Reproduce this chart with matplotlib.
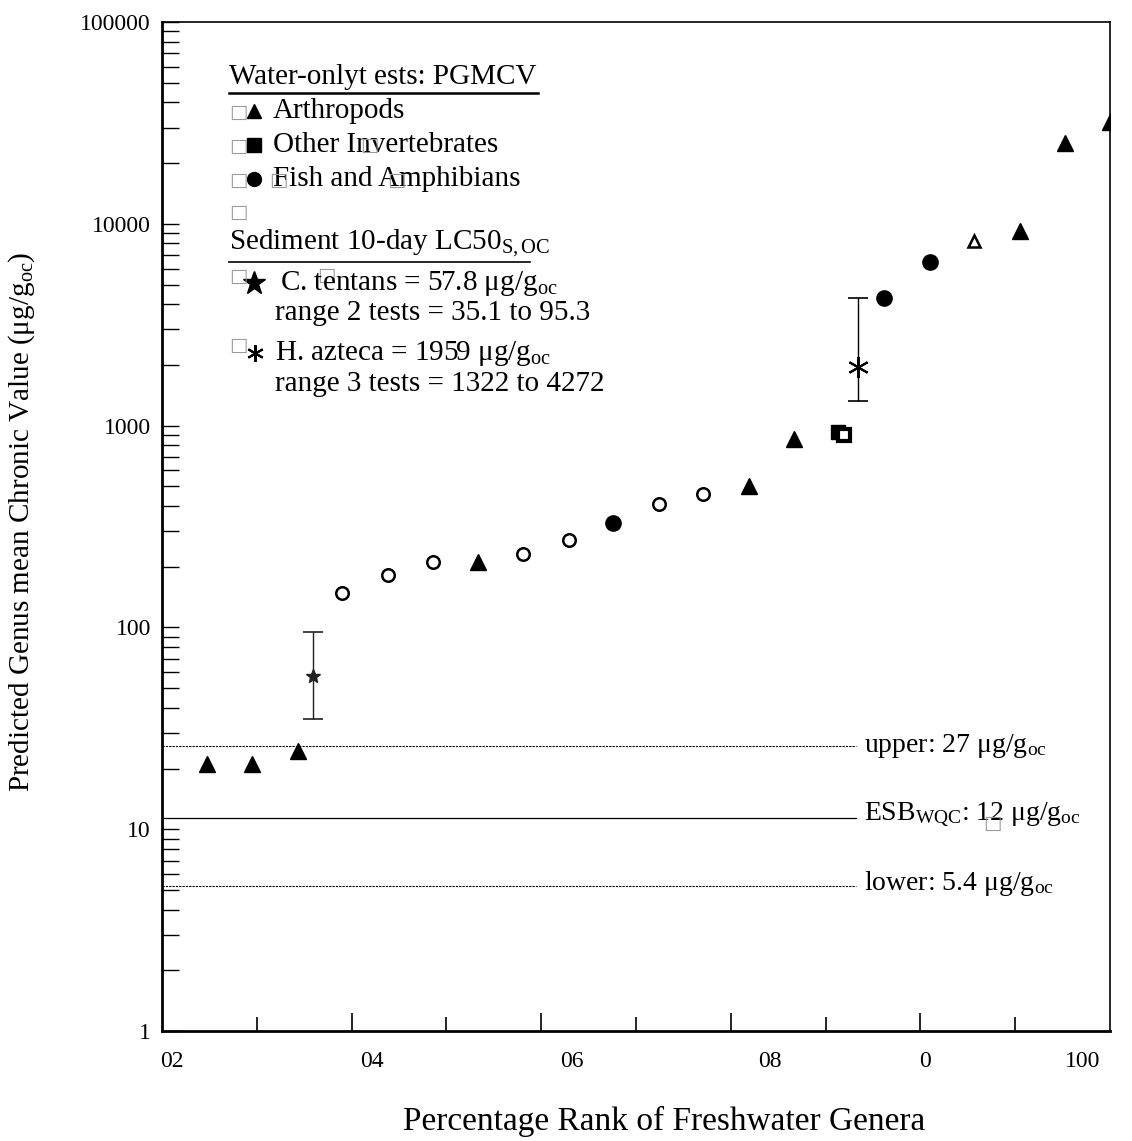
import matplotlib
matplotlib.use("Agg")
import matplotlib.pyplot as plt
import matplotlib.transforms as mtransforms

plt.rcParams['font.family'] = ['Liberation Serif', 'DejaVu Serif']
plt.rcParams['mathtext.fontset'] = 'custom'
plt.rcParams['mathtext.rm'] = 'Liberation Serif'
plt.rcParams['mathtext.it'] = 'Liberation Serif:italic'

# --- dane ---
# Arthropods (filled triangles)
art_x = [4.8, 9.5, 14.3, 33.3, 61.9, 66.7, 90.5, 95.2, 100.0]
art_y = [21.1, 21.1, 24.5, 212, 505, 855, 9190, 25100, 31900]
# open triangle
art_open_x = [85.7]
art_open_y = [8200]
# open circles
circ_open_x = [19.0, 23.8, 28.6, 38.1, 42.9, 52.4, 57.1]
circ_open_y = [149, 183, 210, 230, 270, 407, 456]
# Fish and amphibians (filled circles)
fish_x = [47.6, 76.2, 81.0]
fish_y = [331, 4275, 6455]
# Other invertebrates
inv_x = [71.3]
inv_y = [925]
inv_open_x = [71.9]
inv_open_y = [904]
# Sediment LC50
tentans_x, tentans_y = 15.9, 57.8
tentans_lo, tentans_hi = 35.1, 95.3
azteca_x, azteca_y = 73.4, 1959
azteca_lo, azteca_hi = 1322, 4272
# ESB lines
upper_val = 26
esb_val = 11.4
lower_val = 5.25
line_end = 73.2

xtick_pos = [1.0, 22.1, 43.2, 64.1, 80.5, 97.1]
xtick_txt = ["02", "04", "06", "08", "0", "100"]

fig = plt.figure(figsize=(11.32, 11.41), dpi=100)
ax = fig.add_axes([0.1431, 0.0963, 0.8375, 0.8844])

ms = 10
ax.plot(art_x, art_y, "^", color="black", ms=ms + 1, ls="none")
ax.plot(art_open_x, art_open_y, "^", mfc="white", mec="black", mew=1.8, ms=ms - 1, ls="none")
ax.plot(circ_open_x, circ_open_y, "o", mfc="white", mec="black", mew=1.8, ms=ms - 1, ls="none")
ax.plot(fish_x, fish_y, "o", color="black", ms=ms + 1, ls="none")
ax.plot(inv_x, inv_y, "s", color="black", ms=ms, ls="none")
ax.plot(inv_open_x, inv_open_y, "s", mfc="white", mec="black", mew=3, ms=ms - 2, ls="none")

ax.errorbar([tentans_x], [tentans_y],
            yerr=[[tentans_y - tentans_lo], [tentans_hi - tentans_y]],
            fmt="*", color="#222222", ms=ms, capsize=7, elinewidth=1, capthick=1.2)
ax.errorbar([azteca_x], [azteca_y],
            yerr=[[azteca_y - azteca_lo], [azteca_hi - azteca_y]],
            fmt="none", color="black", capsize=7, elinewidth=1, capthick=1.2)
ax.plot([azteca_x], [azteca_y], marker=(6, 2, 0), color="black", ms=15, mew=1.5, ls="none")

ax.plot([0, line_end], [upper_val, upper_val], color="black", lw=0.8, ls=(0, (2, 1)))
ax.plot([0, line_end], [esb_val, esb_val], color="black", lw=0.9)
ax.plot([0, line_end], [lower_val, lower_val], color="black", lw=0.8, ls=(0, (2, 1)))

fs = 21
lfs = 20
ax.text(74.0, upper_val, r"upper: 27 μg/g$_{\mathregular{oc}}$", fontsize=lfs, va="center")
ax.text(74.0, esb_val * 1.03, r"ESB$_{\mathregular{WQC}}$: 12 μg/g$_{\mathregular{oc}}$", fontsize=lfs, va="center")
ax.text(74.0, lower_val * 1.03, r"lower: 5.4 μg/g$_{\mathregular{oc}}$", fontsize=lfs, va="center")

ax.set_yscale("log")
ax.set_xlim(0, 100)
ax.set_ylim(1, 100000)

ax.set_xticks([20, 40, 60, 80])
ax.set_xticks([10, 30, 50, 70, 90], minor=True)
ax.set_xticklabels([])
ax.tick_params(axis="x", which="major", direction="in", length=13, width=1.2)
ax.tick_params(axis="x", which="minor", direction="in", length=10, width=1.2)
ax.tick_params(axis="y", which="both", direction="in", length=12, width=1.0, labelsize=17, pad=8)
ax.set_yticks([1, 10, 100, 1000, 10000, 100000])
ax.set_yticklabels(["1", "10", "100", "1000", "10000", "100000"])
ax.yaxis.set_minor_formatter(matplotlib.ticker.NullFormatter())

trans = mtransforms.blended_transform_factory(ax.transData, ax.transAxes)
for p, t in zip(xtick_pos, xtick_txt):
    ax.text(p, -0.03, t, transform=trans, ha="center", va="center", fontsize=17)

for s in ["left", "bottom"]:
    ax.spines[s].set_linewidth(2)
for s in ["top", "right"]:
    ax.spines[s].set_linewidth(1.2)

ax.set_xlabel("Percentage Rank of Freshwater Genera", fontsize=24)
ax.xaxis.set_label_coords(0.53, -0.09)
ax.xaxis.label.set_va("center")
ax.set_ylabel(r"Predicted Genus mean Chronic Value (μg/g$_{\mathregular{oc}}$)", fontsize=21)
ax.yaxis.set_label_coords(-0.148, 0.505)
ax.yaxis.label.set_va("center")

# --- legenda ---
def px(x, y):
    return (x - 162) / 948.0, (1030 - y) / 1008.0

box = dict(family="DejaVu Sans", color="#999999", fontsize=14, va="center", ha="center",
           transform=ax.transAxes)
lt = dict(fontsize=fs, va="center", transform=ax.transAxes)

x0, y0 = px(229, 77)
ax.text(x0, y0, "Water-onlyt ests: PGMCV", **lt)
xa, ya = px(229, 93)
xb, _ = px(538, 93)
ax.plot([xa, xb], [ya, ya], color="black", lw=1.8, transform=ax.transAxes, clip_on=False)

rows = [(111, "^", "Arthropods"), (145, "s", "Other Invertebrates"), (179, "o", "Fish and Amphibians")]
for yy, mk, txt in rows:
    bx, by = px(238, yy + 1)
    ax.text(bx, by, "□", **box)
    mx, my = px(254, yy)
    ax.plot([mx], [my], mk, color="black", ms=10, transform=ax.transAxes)
    tx, ty = px(273, yy)
    ax.text(tx, ty, txt, **lt)

for bxp, byp in [(369, 145), (396, 180), (278, 180), (238, 212)]:
    bx, by = px(bxp, byp)
    ax.text(bx, by, "□", **box)

x0, y0 = px(229, 243)
ax.text(x0, y0, r"Sediment 10-day LC50$_{\mathregular{S,OC}}$", **lt)
xa, ya = px(229, 262)
xb, _ = px(530, 262)
ax.plot([xa, xb], [ya, ya], color="black", lw=1.2, transform=ax.transAxes, clip_on=False)

bx, by = px(238, 276)
ax.text(bx, by, "□", **box)
bx, by = px(326, 275)
ax.text(bx, by, "□", **box)
mx, my = px(254, 283)
ax.plot([mx], [my], "*", color="black", ms=17, transform=ax.transAxes)
tx, ty = px(280, 283)
ax.text(tx, ty, r"C. tentans = 57.8 μg/g$_{\mathregular{oc}}$", **lt)
tx, ty = px(275, 313)
ax.text(tx, ty, "range 2 tests = 35.1 to 95.3", **lt)

bx, by = px(238, 345)
ax.text(bx, by, "□", **box)
mx, my = px(255, 353)
ax.plot([mx], [my], marker=(6, 2, 0), color="black", ms=12, mew=1.5, transform=ax.transAxes)
tx, ty = px(275, 353)
ax.text(tx, ty, r"H. azteca = 1959 μg/g$_{\mathregular{oc}}$", **lt)
tx, ty = px(275, 384)
ax.text(tx, ty, "range 3 tests = 1322 to 4272", **lt)

bx, by = px(992, 823)
ax.text(bx, by, "□", **box)

plt.savefig("out.png", dpi=100)
